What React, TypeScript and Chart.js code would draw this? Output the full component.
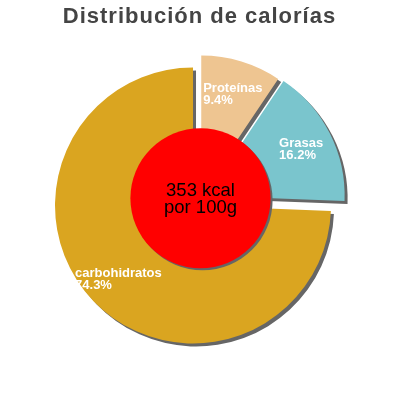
import { useEffect, useRef } from "react";
import { Chart, registerables } from "chart.js";

Chart.register(...registerables);

// ---- data ----
const chartTitle = "Distribución de calorías";
const categories = ["Proteínas", "Grasas", "carbohidratos"];
const shares = [9.4, 16.2, 74.3];
const energyKcal = 353;
const centerLines = [`${energyKcal} kcal`, "por 100g"];

// ---- styles ----
const sliceColors = ["#eec591", "#7ac5cd", "#daa520"];
const sliceOffsets = [6, 8, 9];
const SHADOW = "#666666";
const FONT = '"Liberation Sans", Arial, Helvetica, sans-serif';

export default function App() {
  const ref = useRef<HTMLCanvasElement>(null);

  useEffect(() => {
    const canvas = ref.current;
    if (!canvas) return;

    const explodedPie = {
      id: "explodedPie",
      beforeDraw(chart: any) {
        // slight letter spacing for the title
        chart.ctx.letterSpacing = "1px";
      },
      beforeDatasetsDraw(chart: any) {
        const ctx = chart.ctx;
        ctx.letterSpacing = "0px";
        const meta = chart.getDatasetMeta(0);
        meta.data.forEach((arc: any, i: number) => {
          const mid = (arc.startAngle + arc.endAngle) / 2;
          const d = sliceOffsets[i] || 0;
          ctx.save();
          ctx.translate(Math.cos(mid) * d, Math.sin(mid) * d);
          ctx.shadowColor = SHADOW;
          ctx.shadowOffsetX = 3;
          ctx.shadowOffsetY = 3;
          ctx.shadowBlur = 0;
          arc.draw(ctx);
          ctx.restore();
        });
        return false;
      },
      afterDraw(chart: any) {
        const ctx = chart.ctx;
        const meta = chart.getDatasetMeta(0);
        const first = meta.data[0];
        if (!first) return;
        const cx = first.x;
        const cy = first.y;
        const R = first.outerRadius;

        // centre disc
        ctx.save();
        ctx.letterSpacing = "0px";
        ctx.shadowColor = SHADOW;
        ctx.shadowOffsetX = 2;
        ctx.shadowOffsetY = 2;
        ctx.shadowBlur = 0;
        ctx.beginPath();
        ctx.arc(cx + 1, cy - 1, R * 0.508, 0, Math.PI * 2);
        ctx.fillStyle = "#ff0000";
        ctx.fill();
        ctx.restore();

        ctx.save();
        ctx.letterSpacing = "0px";
        ctx.fillStyle = "#000";
        ctx.font = `18.5px ${FONT}`;
        ctx.textAlign = "center";
        ctx.textBaseline = "alphabetic";
        ctx.fillText(centerLines[0], cx + 1, cy - 3);
        ctx.fillText(centerLines[1], cx + 1, cy + 14);
        ctx.restore();

        // slice labels
        ctx.save();
        ctx.font = `bold 13px ${FONT}`;
        ctx.letterSpacing = "0px";
        ctx.fillStyle = "#ffffff";
        ctx.textAlign = "left";
        ctx.textBaseline = "alphabetic";
        meta.data.forEach((arc: any, i: number) => {
          const mid = (arc.startAngle + arc.endAngle) / 2;
          const d = (sliceOffsets[i] || 0) + arc.outerRadius * 0.76;
          const px = arc.x + Math.cos(mid) * d;
          const py = arc.y + Math.sin(mid) * d;
          const lines = [categories[i], `${shares[i].toFixed(1)}%`];
          const w = Math.max(...lines.map((l) => ctx.measureText(l).width));
          ctx.fillText(lines[0], px - w / 2 + 1, py - 1);
          ctx.fillText(lines[1], px - w / 2 + 1, py + 11);
        });
        ctx.restore();
      },
    };

    const chart = new Chart(canvas, {
      type: "pie",
      data: {
        labels: categories,
        datasets: [
          {
            data: shares,
            backgroundColor: sliceColors,
            borderWidth: 0,
          },
        ],
      },
      options: {
        responsive: false,
        animation: false,
        radius: 138,
        layout: { padding: { top: 0, bottom: 31.4, left: 0, right: 1 } },
        plugins: {
          legend: { display: false },
          tooltip: { enabled: false },
          title: {
            display: true,
            text: chartTitle,
            color: "#444444",
            font: { family: FONT, size: 22, weight: "bold", lineHeight: 1.2 },
            padding: { top: 3.5, bottom: 0 },
          },
        },
      } as any,
      plugins: [explodedPie],
    });

    return () => chart.destroy();
  }, []);

  return (
    <div
      style={{
        position: "fixed",
        left: 0,
        top: 0,
        width: 400,
        height: 400,
        background: "#ffffff",
      }}
    >
      <canvas ref={ref} width={400} height={400} style={{ display: "block" }} />
    </div>
  );
}
